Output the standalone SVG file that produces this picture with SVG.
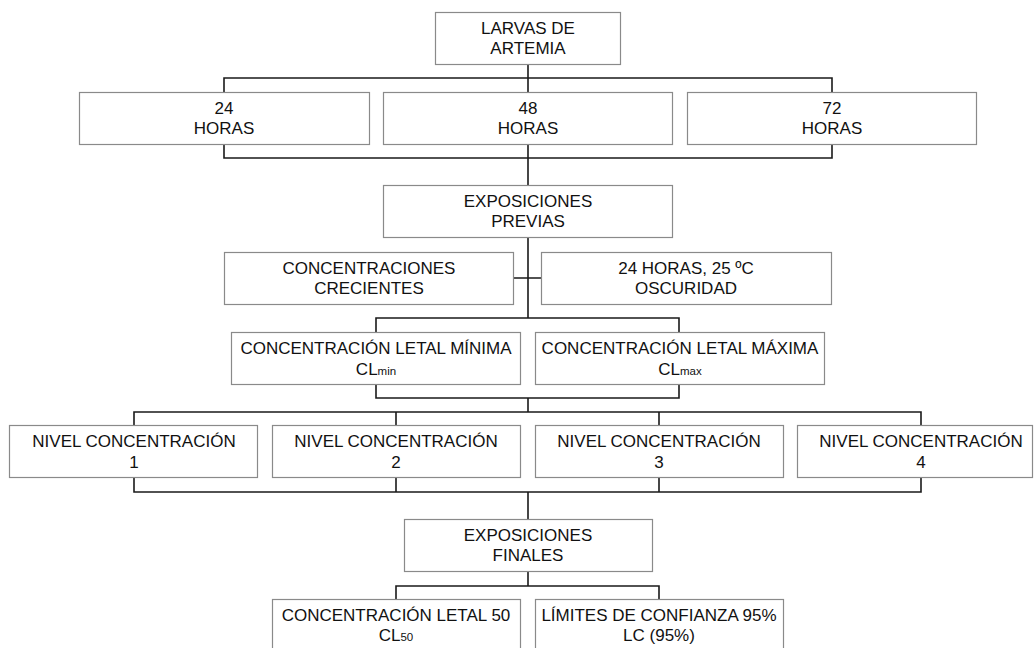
<svg xmlns="http://www.w3.org/2000/svg" width="1034" height="648" viewBox="0 0 1034 648">
<style>
.box{fill:#fff;stroke:#8a8a8a;stroke-width:1.2}
.t{font-family:"Liberation Sans",Arial,sans-serif;font-size:17px;fill:#111;text-anchor:middle}
.s{font-size:11.5px}
.c{fill:none;stroke:#1a1a1a;stroke-width:1.6}
</style>
<rect width="1034" height="648" fill="#fff"/>
<g id="connectors">
<path class="c" d="M528,64V92M224,92V78H832V92"/>
<path class="c" d="M224,144V158H832V144M528,144V185"/>
<path class="c" d="M528,238V318M514,278H541"/>
<path class="c" d="M376,332V318H679V332"/>
<path class="c" d="M376,384V398H679V384M528,398V412"/>
<path class="c" d="M134,425V412H921V425M396,412V425M659,412V425"/>
<path class="c" d="M134,478V492H921V478M396,478V492M659,478V492M528,492V519"/>
<path class="c" d="M528,571V586M396,599V586H659V599"/>
</g>
<g id="larvas"><rect class="box" x="435.5" y="12.5" width="185" height="52"/><text class="t" x="528" y="34">LARVAS DE</text><text class="t" x="528" y="54">ARTEMIA</text></g>
<g id="h24"><rect class="box" x="79.5" y="92.5" width="290" height="52"/><text class="t" x="224" y="114">24</text><text class="t" x="224" y="134">HORAS</text></g>
<g id="h48"><rect class="box" x="383.5" y="92.5" width="289" height="52"/><text class="t" x="528" y="114">48</text><text class="t" x="528" y="134">HORAS</text></g>
<g id="h72"><rect class="box" x="687.5" y="92.5" width="289" height="52"/><text class="t" x="832" y="114">72</text><text class="t" x="832" y="134">HORAS</text></g>
<g id="exp-previas"><rect class="box" x="383.5" y="185.5" width="289" height="52"/><text class="t" x="528" y="207">EXPOSICIONES</text><text class="t" x="528" y="227">PREVIAS</text></g>
<g id="conc-crecientes"><rect class="box" x="224.5" y="252.5" width="289" height="52"/><text class="t" x="369" y="274">CONCENTRACIONES</text><text class="t" x="369" y="294">CRECIENTES</text></g>
<g id="condiciones"><rect class="box" x="541.5" y="252.5" width="290" height="52"/><text class="t" x="686" y="274">24 HORAS, 25 ºC</text><text class="t" x="686" y="294">OSCURIDAD</text></g>
<g id="clmin"><rect class="box" x="231.5" y="332.5" width="289" height="52"/><text class="t" x="376" y="354">CONCENTRACIÓN LETAL MÍNIMA</text><text class="t" x="376" y="375">CL<tspan class="s">min</tspan></text></g>
<g id="clmax"><rect class="box" x="535.5" y="332.5" width="289" height="52"/><text class="t" x="680" y="354">CONCENTRACIÓN LETAL MÁXIMA</text><text class="t" x="680" y="375">CL<tspan class="s">max</tspan></text></g>
<g id="nivel1"><rect class="box" x="9.5" y="425.5" width="248" height="52"/><text class="t" x="134" y="447">NIVEL CONCENTRACIÓN</text><text class="t" x="134" y="468">1</text></g>
<g id="nivel2"><rect class="box" x="272.5" y="425.5" width="248" height="52"/><text class="t" x="396" y="447">NIVEL CONCENTRACIÓN</text><text class="t" x="396" y="468">2</text></g>
<g id="nivel3"><rect class="box" x="535.5" y="425.5" width="248" height="52"/><text class="t" x="659" y="447">NIVEL CONCENTRACIÓN</text><text class="t" x="659" y="468">3</text></g>
<g id="nivel4"><rect class="box" x="797.5" y="425.5" width="235" height="52"/><text class="t" x="921" y="447">NIVEL CONCENTRACIÓN</text><text class="t" x="921" y="468">4</text></g>
<g id="exp-finales"><rect class="box" x="404.5" y="519.5" width="248" height="52"/><text class="t" x="528" y="541">EXPOSICIONES</text><text class="t" x="528" y="561">FINALES</text></g>
<g id="cl50"><rect class="box" x="272.5" y="599.5" width="248" height="52"/><text class="t" x="396" y="621">CONCENTRACIÓN LETAL 50</text><text class="t" x="396" y="641">CL<tspan class="s">50</tspan></text></g>
<g id="lc95"><rect class="box" x="535.5" y="599.5" width="248" height="52"/><text class="t" x="659" y="621">LÍMITES DE CONFIANZA 95%</text><text class="t" x="659" y="641">LC (95%)</text></g>
</svg>
